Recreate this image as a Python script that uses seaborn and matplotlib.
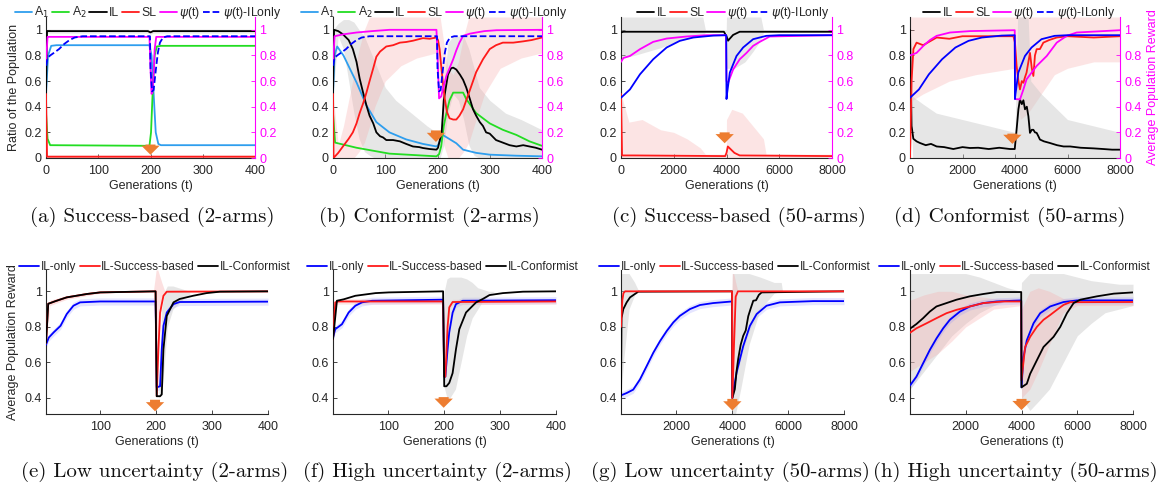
import matplotlib
matplotlib.use("Agg")
import matplotlib.pyplot as plt
import seaborn as sns
from matplotlib.lines import Line2D

sns.set_theme(style="white")
plt.rcParams['font.family'] = ['Liberation Sans', 'DejaVu Sans']
plt.rcParams['mathtext.fontset'] = 'dejavusans'

# ---------------- colours ----------------
C_A1 = '#2E9EEE'
C_A2 = '#22DD22'
C_IL = '#000000'
C_SL = '#FF1A1A'
C_PSI = '#FF00FF'
C_BLUE = '#0000FF'
C_ARROW = '#ED7D31'
C_GRAYBAND = '#C8C8C8'
C_PINKBAND = '#F7A8A8'

# ---------------- data: panel (a) ----------------
a_t_IL = [0, 2, 195, 200, 205, 400]
a_IL = [0.5, 0.99, 0.99, 0.98, 0.99, 0.99]
a_t_SL = [0, 2, 400]
a_SL = [0.5, 0.01, 0.01]
a_t_A1 = [0, 4, 10, 20, 198, 202, 206, 210, 215, 220, 400]
a_A1 = [0.5, 0.8, 0.875, 0.88, 0.88, 0.8, 0.5, 0.2, 0.11, 0.1, 0.1]
a_t_A2 = [0, 3, 8, 198, 201, 204, 208, 212, 220, 400]
a_A2 = [0.35, 0.15, 0.1, 0.095, 0.2, 0.5, 0.8, 0.87, 0.875, 0.875]
a_t_PSI = [0, 3, 198, 200, 202, 204, 206, 208, 211, 400]
a_PSI = [0.75, 0.945, 0.945, 0.7, 0.5, 0.52, 0.65, 0.85, 0.945, 0.945]

# psi(t)-ILonly, 2 arms (shared by (a) and (b))
psi2_t = [0, 3, 8, 15, 25, 35, 45, 55, 70, 199, 200, 203, 206, 210, 214, 218, 224, 232, 400]
psi2 = [0.72, 0.78, 0.80, 0.82, 0.85, 0.89, 0.92, 0.94, 0.95, 0.95, 0.7, 0.52, 0.53, 0.68, 0.82, 0.9, 0.94, 0.95, 0.95]

# ---------------- data: panel (b) ----------------
b_t_A1 = [0, 3, 8, 20, 45, 64, 83, 108, 140, 172, 198, 201, 210, 222, 236, 249, 274, 300, 350, 400]
b_A1 = [0.5, 0.8, 0.87, 0.8, 0.59, 0.41, 0.28, 0.2, 0.145, 0.11, 0.09, 0.1, 0.18, 0.15, 0.115, 0.065, 0.04, 0.026, 0.018, 0.013]
b_t_A2 = [0, 4, 45, 108, 198, 203, 207, 212, 217, 223, 230, 249, 255, 274, 300, 325, 351, 376, 400]
b_A2 = [0.35, 0.12, 0.08, 0.034, 0.013, 0.03, 0.09, 0.25, 0.35, 0.45, 0.51, 0.51, 0.46, 0.35, 0.27, 0.22, 0.18, 0.13, 0.095]
b_t_IL = [0, 2, 10, 19, 30, 38, 45, 51, 57, 64, 70, 77, 83, 90, 96, 102, 115, 128, 140, 153, 165, 172,
          185, 198, 201, 205, 208, 212, 220, 226, 230, 236, 243, 249, 255, 262, 268, 274, 281, 287, 293,
          300, 312, 325, 338, 351, 364, 376, 388, 400]
b_IL = [0.5, 1.0, 0.99, 0.965, 0.92, 0.85, 0.75, 0.62, 0.52, 0.41, 0.33, 0.27, 0.2, 0.17, 0.16, 0.14, 0.14,
        0.13, 0.11, 0.09, 0.085, 0.078, 0.07, 0.065, 0.08, 0.15, 0.2, 0.45, 0.65, 0.7, 0.705, 0.69, 0.65,
        0.61, 0.55, 0.46, 0.38, 0.33, 0.28, 0.25, 0.2, 0.19, 0.14, 0.12, 0.1, 0.09, 0.1, 0.09, 0.08, 0.065]
b_t_SL = [0, 1, 10, 19, 30, 38, 45, 51, 58, 64, 70, 77, 83, 90, 102, 115, 128, 140, 153, 172, 185, 198,
          201, 204, 207, 210, 214, 218, 223, 230, 236, 242, 249, 255, 262, 268, 274, 287, 300, 312, 325,
          345, 364, 380, 400]
b_SL = [0.5, 0.0, 0.04, 0.09, 0.15, 0.2, 0.27, 0.35, 0.43, 0.51, 0.6, 0.7, 0.79, 0.83, 0.87, 0.88, 0.9,
        0.905, 0.915, 0.935, 0.93, 0.94, 0.92, 0.85, 0.72, 0.6, 0.46, 0.36, 0.31, 0.3, 0.3, 0.33, 0.38,
        0.45, 0.53, 0.6, 0.67, 0.77, 0.85, 0.88, 0.9, 0.9, 0.91, 0.92, 0.94]
b_t_PSI = [0, 3, 20, 45, 75, 108, 198, 200, 203, 207, 210, 217, 224, 230, 236, 242, 249, 262, 274, 290, 313, 400]
b_PSI = [0.75, 0.95, 0.965, 0.979, 0.99, 1.0, 1.0, 0.8, 0.465, 0.48, 0.53, 0.64, 0.71, 0.77, 0.84, 0.9,
         0.953, 0.97, 0.979, 0.99, 0.997, 1.0]
b_t_ILband = [0, 10, 20, 30, 40, 50, 60, 70, 80, 90, 100, 120, 150, 180, 198, 205, 212, 220, 230, 240,
              250, 260, 270, 280, 300, 330, 360, 400]
b_ILband_lo = [0.5, 0.95, 0.85, 0.6, 0.35, 0.15, 0.05, 0.02, 0.0, 0.0, 0.0, 0, 0, 0, 0, 0, 0.1, 0.35,
               0.5, 0.45, 0.3, 0.1, 0.02, 0, 0, 0, 0, 0]
b_ILband_hi = [1.0, 1.05, 1.08, 1.08, 1.06, 1.0, 0.95, 0.85, 0.75, 0.65, 0.55, 0.45, 0.35, 0.25, 0.2,
               0.2, 0.55, 0.9, 0.95, 0.95, 0.95, 0.85, 0.7, 0.55, 0.45, 0.35, 0.3, 0.22]
b_t_SLband = [0, 10, 20, 30, 40, 50, 60, 70, 80, 100, 130, 160, 198, 205, 212, 220, 230, 240, 250, 260,
              270, 290, 320, 360, 400]
b_SLband_lo = [0, 0, 0, 0, 0, 0.05, 0.12, 0.25, 0.4, 0.6, 0.72, 0.78, 0.82, 0.6, 0.1, 0.0, 0.0, 0.0,
               0.05, 0.12, 0.25, 0.5, 0.7, 0.78, 0.82]
b_SLband_hi = [0.5, 0.1, 0.25, 0.45, 0.65, 0.85, 1.0, 1.1, 1.1, 1.1, 1.1, 1.1, 1.1, 1.1, 0.9, 0.7, 0.65,
               0.75, 0.95, 1.1, 1.1, 1.1, 1.1, 1.1, 1.1]

# psi(t)-ILonly, 50 arms (shared by (c) and (d))
psi50_t = [0, 340, 720, 1220, 1730, 2230, 2740, 3500, 3990, 4000, 4020, 4125, 4380, 4630, 5010, 5510, 6000, 8000]
psi50 = [0.47, 0.535, 0.653, 0.77, 0.862, 0.914, 0.94, 0.955, 0.958, 0.46, 0.5, 0.666, 0.796, 0.862,
         0.927, 0.953, 0.958, 0.958]

# ---------------- data: panel (c) ----------------
c_t_IL = [0, 100, 2000, 3900, 4000, 4060, 4120, 4250, 4500, 8000]
c_IL = [0.98, 0.985, 0.985, 0.985, 0.95, 0.915, 0.93, 0.96, 0.985, 0.985]
c_t_SL = [0, 40, 500, 3950, 4000, 4050, 4150, 4300, 4500, 8000]
c_SL = [0.5, 0.02, 0.02, 0.015, 0.04, 0.09, 0.07, 0.04, 0.02, 0.015]
c_t_PSI = [0, 90, 340, 720, 1220, 1730, 2490, 3240, 3980, 4000, 4060, 4250, 4500, 4760, 5010, 5260, 5640, 8000]
c_PSI = [0.75, 0.78, 0.796, 0.849, 0.906, 0.932, 0.948, 0.958, 0.958, 0.6, 0.587, 0.69, 0.77, 0.82,
         0.875, 0.906, 0.948, 0.958]
c_t_ILband = [0, 500, 1000, 1500, 2000, 2500, 3100, 3200, 3990, 4000, 4300, 4700, 5000, 5300, 5400, 8000]
c_ILband_lo = [0.78, 0.8, 0.83, 0.86, 0.9, 0.93, 0.95, 0.98, 0.98, 0.7, 0.7, 0.75, 0.83, 0.92, 0.98, 0.98]
c_ILband_hi = [1.1, 1.1, 1.1, 1.1, 1.1, 1.1, 1.1, 1.0, 1.0, 1.1, 1.1, 1.1, 1.1, 1.1, 1.0, 1.0]
c_t_SLband = [0, 300, 800, 1500, 2000, 2500, 3000, 3200, 3990, 4000, 4200, 4600, 5000, 5400, 5500, 8000]
c_SLband_lo = [0] * 16
c_SLband_hi = [0.5, 0.28, 0.3, 0.22, 0.2, 0.15, 0.08, 0.03, 0.03, 0.3, 0.38, 0.35, 0.25, 0.15, 0.03, 0.03]

# ---------------- data: panel (d) ----------------
d_t_IL = [0, 30, 60, 127, 250, 380, 600, 800, 1015, 1300, 1650, 2000, 2285, 2600, 3000, 3400, 3810,
          3990, 4060, 4130, 4190, 4260, 4320, 4380, 4450, 4510, 4570, 4640, 4700, 4760, 4825, 4890,
          4950, 5100, 5330, 5600, 5850, 6100, 6500, 7000, 7365, 7700, 8000]
d_IL = [1.0, 0.6, 0.25, 0.15, 0.13, 0.117, 0.1, 0.11, 0.09, 0.085, 0.07, 0.085, 0.078, 0.08, 0.07, 0.08,
        0.07, 0.07, 0.22, 0.38, 0.457, 0.42, 0.45, 0.38, 0.4, 0.326, 0.196, 0.22, 0.22, 0.2, 0.196, 0.17,
        0.144, 0.13, 0.117, 0.1, 0.09, 0.09, 0.08, 0.075, 0.07, 0.065, 0.065]
d_t_SL = [0, 60, 130, 250, 500, 1015, 1500, 2000, 3000, 3940, 4000, 4060, 4130, 4190, 4260, 4320,
          4380, 4440, 4510, 4570, 4640, 4700, 4760, 4825, 4950, 5080, 5300, 5590, 6000, 7000, 8000]
d_SL = [0.0, 0.6, 0.85, 0.9, 0.88, 0.94, 0.93, 0.95, 0.95, 0.95, 0.9, 0.72, 0.6, 0.535, 0.6, 0.587,
        0.63, 0.666, 0.75, 0.82, 0.7, 0.64, 0.8, 0.849, 0.85, 0.9, 0.92, 0.94, 0.95, 0.94, 0.95]
d_t_PSI = [0, 250, 510, 760, 1015, 1525, 2285, 3990, 4000, 4190, 4320, 4440, 4825, 5210, 5590, 5970, 6350, 8000]
d_PSI = [0.8, 0.82, 0.875, 0.92, 0.953, 0.979, 0.99, 0.997, 0.46, 0.457, 0.535, 0.614, 0.718, 0.796,
         0.9, 0.953, 0.979, 0.997]
d_t_SLband = [0, 100, 500, 1500, 2500, 3990, 4000, 4200, 4500, 5000, 5500, 6000, 7000, 8000]
d_SLband_lo = [0, 0.45, 0.5, 0.6, 0.65, 0.7, 0.6, 0.3, 0.35, 0.5, 0.65, 0.7, 0.75, 0.75]
d_SLband_hi = [1.1] * 14
d_t_ILband = [0, 100, 500, 1000, 2000, 3000, 3990, 4000, 4100, 4500, 4600, 5000, 5500, 6000, 7000, 8000]
d_ILband_lo = [0.9] + [0] * 15
d_ILband_hi = [1.1, 0.48, 0.42, 0.35, 0.3, 0.25, 0.2, 0.2, 1.1, 1.1, 0.6, 0.5, 0.4, 0.3, 0.25, 0.2]

# ---------------- data: panel (e) ----------------
e_t_ILO = [3, 8, 17, 29, 40, 52, 64, 100, 199, 201, 207, 210, 213, 219, 231, 242, 400]
e_ILO = [0.70, 0.74, 0.77, 0.806, 0.872, 0.919, 0.938, 0.943, 0.943, 0.46, 0.466, 0.674, 0.806, 0.881,
         0.928, 0.94, 0.942]
e_t_ISB = [3, 7, 20, 40, 76, 100, 199, 201, 204, 207, 213, 219, 400]
e_ISB = [0.71, 0.93, 0.945, 0.966, 0.985, 0.994, 1.0, 0.41, 0.674, 0.88, 0.975, 0.998, 1.0]
e_t_ICF = [3, 7, 20, 40, 76, 100, 199, 201, 207, 210, 213, 219, 231, 242, 266, 290, 314, 400]
e_ICF = [0.71, 0.93, 0.945, 0.966, 0.985, 0.994, 1.0, 0.41, 0.41, 0.42, 0.674, 0.862, 0.938, 0.957,
         0.975, 0.99, 0.998, 1.0]
e_t_SBband = [3, 10, 40, 100, 195, 200, 203, 210, 215, 400]
e_SBband_lo = [0.7, 0.92, 0.955, 0.99, 1.0, 0.41, 0.6, 0.95, 0.995, 0.995]
e_SBband_hi = [0.72, 0.95, 0.975, 1.0, 1.0, 1.12, 1.12, 1.05, 1.005, 1.005]
e_t_CFband = [205, 210, 215, 220, 230, 240, 250, 260]
e_CFband_lo = [0.4, 0.42, 0.6, 0.8, 0.9, 0.93, 0.96, 0.98]
e_CFband_hi = [0.45, 0.9, 1.0, 1.03, 1.03, 1.02, 1.01, 1.0]

# ---------------- data: panel (f) ----------------
f_t_ILO = [1, 5, 17, 29, 41, 53, 71, 198, 200, 202, 206, 209, 215, 221, 233, 400]
f_ILO = [0.74, 0.787, 0.815, 0.881, 0.919, 0.938, 0.947, 0.953, 0.52, 0.52, 0.674, 0.77, 0.88, 0.928, 0.947, 0.95]
f_t_ISB = [1, 5, 10, 198, 200, 202, 206, 209, 215, 400]
f_ISB = [0.73, 0.938, 0.943, 0.943, 0.52, 0.52, 0.8, 0.91, 0.94, 0.943]
f_t_ICF = [1, 8, 20, 41, 77, 101, 198, 200, 204, 209, 215, 221, 227, 239, 257, 269, 281, 305, 341, 400]
f_ICF = [0.73, 0.947, 0.955, 0.975, 0.99, 0.994, 1.0, 0.466, 0.466, 0.485, 0.54, 0.674, 0.787, 0.881,
         0.938, 0.957, 0.979, 0.99, 0.998, 1.0]
f_t_CFband = [200, 205, 210, 220, 230, 240, 250, 260, 270, 280, 290]
f_CFband_lo = [0.46, 0.4, 0.4, 0.45, 0.6, 0.75, 0.85, 0.9, 0.95, 0.98, 1.0]
f_CFband_hi = [1.0, 1.07, 1.08, 1.08, 1.08, 1.07, 1.05, 1.02, 1.01, 1.0, 1.0]

# ---------------- data: panel (g) ----------------
g_t_ILO = [12, 215, 450, 690, 930, 1170, 1410, 1650, 1885, 2120, 2480, 2840, 3315, 3990, 4000, 4150,
           4390, 4630, 4870, 5225, 5700, 6895, 8000]
g_ILO = [0.415, 0.428, 0.447, 0.504, 0.579, 0.655, 0.72, 0.777, 0.825, 0.862, 0.9, 0.923, 0.934, 0.943,
         0.40, 0.542, 0.692, 0.806, 0.872, 0.919, 0.938, 0.945, 0.945]
g_t_ISB = [12, 60, 100, 160, 3990, 4000, 4060, 4120, 4200, 8000]
g_ISB = [0.8, 0.95, 0.99, 1.0, 1.0, 0.4, 0.7, 0.97, 1.0, 1.0]
g_t_ICF = [12, 30, 95, 215, 335, 510, 630, 3990, 4000, 4090, 4150, 4210, 4300, 4390, 4480, 4570, 4650,
           4750, 4850, 4950, 5050, 8000]
g_ICF = [0.41, 0.85, 0.9, 0.938, 0.966, 0.985, 0.998, 1.0, 0.40, 0.45, 0.55, 0.62, 0.7, 0.75, 0.78,
         0.86, 0.9, 0.947, 0.95, 0.98, 0.994, 1.0]
g_t_CFband = [12, 100, 300, 500, 650, 3990, 4000, 4100, 4300, 4600, 5000, 5500, 5750, 5800, 8000]
g_CFband_lo = [0.41, 0.6, 0.9, 0.98, 1.0, 1.0, 0.3, 0.3, 0.45, 0.7, 0.9, 0.99, 1.0, 1.0, 1.0]
g_CFband_hi = [1.1, 1.1, 1.1, 1.05, 1.0, 1.0, 1.1, 1.1, 1.1, 1.1, 1.08, 1.05, 1.05, 1.0, 1.0]
g_t_SBband = [3990, 4000, 4050, 4120, 4200]
g_SBband_lo = [1.0, 0.4, 0.5, 0.95, 1.0]
g_SBband_hi = [1.0, 1.1, 1.1, 1.05, 1.0]

# ---------------- data: panel (h) ----------------
h_t_ILO = [0, 230, 470, 710, 950, 1190, 1430, 1790, 2150, 2630, 3110, 3990, 4000, 4070, 4190, 4430,
           4670, 5030, 5510, 5990, 8000]
h_ILO = [0.47, 0.52, 0.595, 0.67, 0.735, 0.792, 0.84, 0.886, 0.915, 0.934, 0.943, 0.949, 0.46, 0.63,
         0.725, 0.82, 0.877, 0.915, 0.94, 0.949, 0.949]
h_t_ISB = [0, 230, 590, 950, 1310, 1670, 2150, 2630, 3350, 3990, 4000, 4130, 4310, 4550, 4790, 5030,
           5270, 5510, 5750, 8000]
h_ISB = [0.767, 0.792, 0.82, 0.849, 0.877, 0.896, 0.915, 0.934, 0.943, 0.943, 0.5, 0.687, 0.744, 0.8,
         0.84, 0.867, 0.896, 0.924, 0.939, 0.94]
h_t_ICF = [0, 230, 470, 710, 950, 1310, 1670, 2150, 2630, 3110, 3990, 4000, 4190, 4310, 4550, 4790,
           5150, 5390, 5630, 5870, 6110, 6710, 7310, 8000]
h_ICF = [0.79, 0.816, 0.849, 0.886, 0.915, 0.934, 0.953, 0.972, 0.985, 0.996, 0.996, 0.46, 0.48, 0.536,
         0.612, 0.687, 0.744, 0.8, 0.877, 0.934, 0.953, 0.972, 0.987, 0.994]
h_t_CFband = [0, 500, 1000, 1500, 2000, 2500, 3000, 3500, 3990, 4000, 4300, 4600, 5000, 5500, 6000,
              6500, 7000, 7500, 8000]
h_CFband_lo = [0.45, 0.55, 0.65, 0.75, 0.82, 0.88, 0.92, 0.95, 0.96, 0.4, 0.33, 0.38, 0.45, 0.6, 0.75,
               0.82, 0.88, 0.9, 0.92]
h_CFband_hi = [1.1, 1.1, 1.1, 1.1, 1.1, 1.08, 1.05, 1.02, 1.0, 1.05, 1.1, 1.1, 1.1, 1.1, 1.08, 1.06,
               1.05, 1.04, 1.04]
h_t_SBband = [0, 500, 1000, 1500, 2000, 2500, 3000, 3990, 4000, 4300, 4600, 5000, 5500, 6000, 8000]
h_SBband_lo = [0.55, 0.6, 0.65, 0.72, 0.8, 0.85, 0.9, 0.92, 0.4, 0.45, 0.55, 0.7, 0.88, 0.92, 0.92]
h_SBband_hi = [0.95, 0.98, 1.0, 1.0, 0.98, 0.97, 0.96, 0.96, 0.9, 1.0, 1.02, 1.0, 0.96, 0.96, 0.96]

# ---------------- text ----------------
top_captions = ["(a) Success-based (2-arms)", "(b) Conformist (2-arms)",
                "(c) Success-based (50-arms)", "(d) Conformist (50-arms)"]
bot_captions = ["(e) Low uncertainty (2-arms)", "(f) High uncertainty (2-arms)",
                "(g) Low uncertainty (50-arms)", "(h) High uncertainty (50-arms)"]
top_ticks = [0, 0.2, 0.4, 0.6, 0.8, 1]
top_ticklabels = ['0', '0.2', '0.4', '0.6', '0.8', '1']
bot_ticks = [0.4, 0.6, 0.8, 1]
bot_ticklabels = ['0.4', '0.6', '0.8', '1']
CHANGE_2 = 200
CHANGE_50 = 4000

# ---------------- figure ----------------
W, H = 1169, 491
fig = plt.figure(figsize=(W / 100, H / 100), dpi=100)

def px_axes(x0, x1, y0, y1):
    return fig.add_axes([x0 / W, 1 - y1 / H, (x1 - x0) / W, (y1 - y0) / H])

LW = 1.3
TICKFS = 9

def line(ax, t, y, color, ls='-', lw=LW, z=3):
    sns.lineplot(x=t, y=y, ax=ax, color=color, linestyle=ls, linewidth=lw,
                 estimator=None, sort=False, legend=False, zorder=z)

def band(ax, t, lo, hi, color, alpha):
    ax.fill_between(t, lo, hi, color=color, alpha=alpha, linewidth=0, zorder=1)

def arrow(ax, x, ytail, ytip):
    ax.annotate('', xy=(x, ytip), xytext=(x, ytail),
                arrowprops=dict(arrowstyle='simple,head_length=0.55,head_width=1.1,tail_width=0.6',
                                fc=C_ARROW, ec='none', mutation_scale=12, shrinkA=0, shrinkB=0),
                zorder=6)

def style_common(ax):
    for s in ['top', 'right']:
        ax.spines[s].set_visible(False)
    for s in ['left', 'bottom']:
        ax.spines[s].set_color('#262626')
        ax.spines[s].set_linewidth(0.8)
    ax.tick_params(direction='in', length=3, width=0.6, labelsize=TICKFS, colors='#262626',
                   left=True, bottom=True, pad=3)
    ax.tick_params(axis='x', pad=5)
    ax.set_xlabel('Generations (t)', fontsize=TICKFS, color='#262626', labelpad=2.5)
    ax.set_ylabel('')

top_pos = [(46, 255), (333, 542), (621, 832), (910, 1120)]
bot_pos = [(46, 268), (333, 556), (621, 844), (910, 1133)]
TOP_Y = (17, 158)
BOT_Y = (270, 414)

# ---- top row ----
top_axes = []
for i, (x0, x1) in enumerate(top_pos):
    ax = px_axes(x0, x1, *TOP_Y)
    ax2 = ax.twinx()
    top_axes.append((ax, ax2))

def setup_top(ax, ax2, xmax, xticks):
    style_common(ax)
    ax.set_xlim(0, xmax)
    ax.set_xticks(xticks)
    ax.set_xticklabels([str(v) for v in xticks])
    for a in (ax, ax2):
        a.set_ylim(0, 1.1)
    ax.set_yticks(top_ticks)
    ax.set_yticklabels(top_ticklabels)
    ax2.set_yticks(top_ticks)
    ax2.set_yticklabels(top_ticklabels)
    for s in ['top', 'left', 'bottom']:
        ax2.spines[s].set_visible(False)
    ax2.spines['right'].set_visible(True)
    ax2.spines['right'].set_color(C_PSI)
    ax2.spines['right'].set_linewidth(0.8)
    ax2.tick_params(axis='y', direction='in', length=3, width=0.6, labelsize=TICKFS,
                    colors=C_PSI, right=True, pad=3)
    ax2.set_ylabel('')
    ax2.grid(False)
    ax.grid(False)

# (a)
ax, ax2 = top_axes[0]
band(ax, a_t_IL, [v - 0.015 for v in a_IL], [min(v + 0.015, 1.1) for v in a_IL], C_GRAYBAND, 0.5)
band(ax, a_t_SL, [0, 0, 0], [0.5, 0.025, 0.025], C_PINKBAND, 0.4)
line(ax, a_t_A1, a_A1, C_A1)
line(ax, a_t_A2, a_A2, C_A2)
line(ax, a_t_IL, a_IL, C_IL)
line(ax, a_t_SL, a_SL, C_SL)
line(ax2, a_t_PSI, a_PSI, C_PSI)
line(ax2, psi2_t, psi2, C_BLUE, ls='--')
arrow(ax, CHANGE_2, 0.105, 0.025)
setup_top(ax, ax2, 400, [0, 100, 200, 300, 400])
ax.set_ylabel('Ratio of the Population', fontsize=TICKFS, color='#262626', labelpad=3)

# (b)
ax, ax2 = top_axes[1]
band(ax, b_t_ILband, b_ILband_lo, b_ILband_hi, C_GRAYBAND, 0.45)
band(ax, b_t_SLband, b_SLband_lo, b_SLband_hi, C_PINKBAND, 0.3)
line(ax, b_t_A1, b_A1, C_A1)
line(ax, b_t_A2, b_A2, C_A2)
line(ax, b_t_IL, b_IL, C_IL)
line(ax, b_t_SL, b_SL, C_SL)
line(ax2, b_t_PSI, b_PSI, C_PSI)
line(ax2, psi2_t, psi2, C_BLUE, ls='--')
arrow(ax, 197, 0.215, 0.125)
setup_top(ax, ax2, 400, [0, 100, 200, 300, 400])

# (c)
ax, ax2 = top_axes[2]
band(ax, c_t_ILband, c_ILband_lo, c_ILband_hi, C_GRAYBAND, 0.45)
band(ax, c_t_SLband, c_SLband_lo, c_SLband_hi, C_PINKBAND, 0.3)
line(ax, c_t_IL, c_IL, C_IL)
line(ax, c_t_SL, c_SL, C_SL)
line(ax2, c_t_PSI, c_PSI, C_PSI)
line(ax2, psi50_t, psi50, C_BLUE)
arrow(ax, 3930, 0.2, 0.115)
setup_top(ax, ax2, 8000, [0, 2000, 4000, 6000, 8000])

# (d)
ax, ax2 = top_axes[3]
band(ax, d_t_SLband, d_SLband_lo, d_SLband_hi, C_PINKBAND, 0.3)
band(ax, d_t_ILband, d_ILband_lo, d_ILband_hi, C_GRAYBAND, 0.45)
line(ax, d_t_IL, d_IL, C_IL)
line(ax, d_t_SL, d_SL, C_SL)
line(ax2, d_t_PSI, d_PSI, C_PSI)
line(ax2, psi50_t, psi50, C_BLUE)
arrow(ax, 3900, 0.19, 0.11)
setup_top(ax, ax2, 8000, [0, 2000, 4000, 6000, 8000])
ax2.set_ylabel('Average Population Reward', fontsize=TICKFS, color=C_PSI, labelpad=4)

# ---- bottom row ----
def setup_bot(ax, xlim, xticks):
    style_common(ax)
    ax.set_xlim(*xlim)
    ax.set_ylim(0.31, 1.12)
    ax.set_xticks(xticks)
    ax.set_xticklabels([str(v) for v in xticks])
    ax.set_yticks(bot_ticks)
    ax.set_yticklabels(bot_ticklabels)
    ax.grid(False)

def blueband(ax, t, y):
    band(ax, t, [v - 0.02 for v in y], [v + 0.02 for v in y], '#8080FF', 0.2)

# (e)
ax = px_axes(*bot_pos[0], *BOT_Y)
blueband(ax, e_t_ILO, e_ILO)
band(ax, e_t_SBband, e_SBband_lo, e_SBband_hi, C_PINKBAND, 0.35)
band(ax, e_t_CFband, e_CFband_lo, e_CFband_hi, C_GRAYBAND, 0.45)
line(ax, e_t_ILO, e_ILO, C_BLUE)
line(ax, e_t_ISB, e_ISB, C_SL)
line(ax, e_t_ICF, e_ICF, C_IL)
arrow(ax, 198, 0.39, 0.325)
setup_bot(ax, (3, 400), [100, 200, 300, 400])
ax.set_ylabel('Average Population Reward', fontsize=TICKFS, color='#262626', labelpad=4)

# (f)
ax = px_axes(*bot_pos[1], *BOT_Y)
blueband(ax, f_t_ILO, f_ILO)
band(ax, f_t_ISB, [v - 0.015 for v in f_ISB], [v + 0.015 for v in f_ISB], C_PINKBAND, 0.3)
band(ax, f_t_CFband, f_CFband_lo, f_CFband_hi, C_GRAYBAND, 0.45)
line(ax, f_t_ILO, f_ILO, C_BLUE)
line(ax, f_t_ISB, f_ISB, C_SL)
line(ax, f_t_ICF, f_ICF, C_IL)
arrow(ax, 199, 0.405, 0.345)
setup_bot(ax, (1, 400), [100, 200, 300, 400])

# (g)
ax = px_axes(*bot_pos[2], *BOT_Y)
blueband(ax, g_t_ILO, g_ILO)
band(ax, g_t_CFband, g_CFband_lo, g_CFband_hi, C_GRAYBAND, 0.45)
band(ax, g_t_SBband, g_SBband_lo, g_SBband_hi, C_PINKBAND, 0.35)
line(ax, g_t_ILO, g_ILO, C_BLUE)
line(ax, g_t_ICF, g_ICF, C_IL)
line(ax, g_t_ISB, g_ISB, C_SL)
arrow(ax, 4000, 0.395, 0.33)
setup_bot(ax, (12, 8000), [2000, 4000, 6000, 8000])

# (h)
ax = px_axes(*bot_pos[3], *BOT_Y)
band(ax, h_t_CFband, h_CFband_lo, h_CFband_hi, C_GRAYBAND, 0.45)
band(ax, h_t_SBband, h_SBband_lo, h_SBband_hi, C_PINKBAND, 0.3)
blueband(ax, h_t_ILO, h_ILO)
line(ax, h_t_ILO, h_ILO, C_BLUE)
line(ax, h_t_ISB, h_ISB, C_SL)
line(ax, h_t_ICF, h_ICF, C_IL)
arrow(ax, 4000, 0.395, 0.332)
setup_bot(ax, (0, 8000), [2000, 4000, 6000, 8000])

# ---------------- legends ----------------
top_handles_full = [Line2D([], [], color=C_A1, lw=LW), Line2D([], [], color=C_A2, lw=LW),
                    Line2D([], [], color=C_IL, lw=LW), Line2D([], [], color=C_SL, lw=LW),
                    Line2D([], [], color=C_PSI, lw=LW), Line2D([], [], color=C_BLUE, lw=LW, ls='--')]
top_labels_full = ['A$_1$', 'A$_2$', 'IL', 'SL', r'$\psi$(t)', r'$\psi$(t)-ILonly']
top_leg_centers = [148, 434, 733, 1019]
for i, cx in enumerate(top_leg_centers):
    if i < 2:
        hs, ls_ = top_handles_full, top_labels_full
    else:
        hs, ls_ = top_handles_full[2:], top_labels_full[2:]
    fig.legend(hs, ls_, loc='center', bbox_to_anchor=(cx / W, 1 - 13 / H), ncol=len(hs),
               frameon=False, fontsize=8.8, handlelength=1.4, handletextpad=0.2,
               columnspacing=0.25, borderpad=0, borderaxespad=0)

bot_handles = [Line2D([], [], color=C_BLUE, lw=LW), Line2D([], [], color=C_SL, lw=LW),
               Line2D([], [], color=C_IL, lw=LW)]
bot_labels = ['IL-only', 'IL-Success-based', 'IL-Conformist']
bot_leg_centers = [155, 443, 735, 1015]
for cx in bot_leg_centers:
    fig.legend(bot_handles, bot_labels, loc='center', bbox_to_anchor=(cx / W, 1 - 267 / H), ncol=3,
               frameon=False, fontsize=8.5, handlelength=1.7, handletextpad=0.15,
               columnspacing=0.25, borderpad=0, borderaxespad=0)

# ---------------- captions ----------------
top_cap_x = [152, 429, 739, 1010]
bot_cap_x = [155, 437, 730, 1015]
for txt, cx in zip(top_captions, top_cap_x):
    fig.text(cx / W, 1 - 217 / H, txt, ha='center', va='center', fontsize=15, family='cmr10',
             color='#111111')
for txt, cx in zip(bot_captions, bot_cap_x):
    fig.text(cx / W, 1 - 472 / H, txt, ha='center', va='center', fontsize=15, family='cmr10',
             color='#111111')

fig.savefig('out.png', dpi=100, facecolor='white')
